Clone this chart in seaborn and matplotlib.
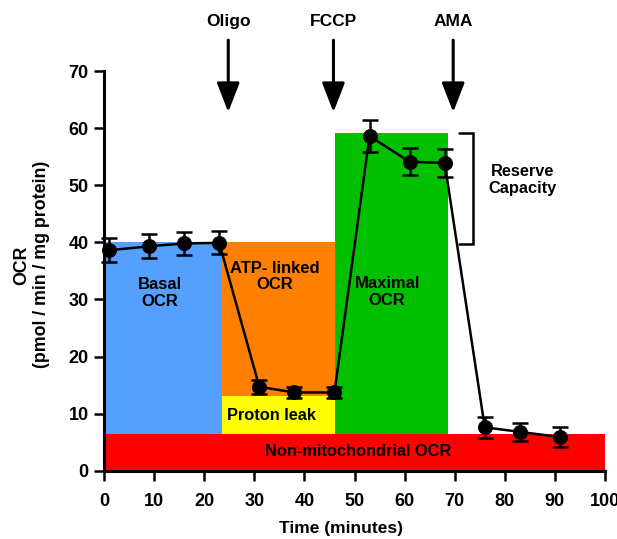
import matplotlib
matplotlib.use("Agg")
import matplotlib.pyplot as plt
import seaborn as sns
import pandas as pd

# ---- data ----
time_min = [1, 9, 16, 23, 31, 38, 46, 53, 61, 68, 76, 83, 91]
ocr = [38.6, 39.3, 39.8, 39.9, 14.7, 13.7, 13.7, 58.6, 54.1, 53.9, 7.6, 6.8, 5.9]
ocr_err = [2.1, 2.1, 2.0, 2.0, 1.2, 1.0, 1.0, 2.8, 2.4, 2.4, 1.8, 1.6, 1.7]

region_names = ["Basal\nOCR", "ATP- linked\nOCR", "Proton leak", "Maximal\nOCR", "Non-mitochondrial OCR"]
region_x0 = [0, 23.5, 23.5, 46.1, 0]
region_x1 = [23.5, 46.1, 46.1, 68.6, 100]
region_y0 = [6.5, 13.1, 6.5, 6.5, 0]
region_y1 = [40, 40, 13.1, 59.2, 6.5]
region_colors = ["#559fff", "#ff8000", "#ffff00", "#00c000", "#ff0000"]
region_label_x = [11.2, 34.1, 33.5, 56.5, 50.8]
region_label_y = [31.1, 34.0, 9.6, 31.3, 3.3]

injections = ["Oligo", "FCCP", "AMA"]
injection_x = [24.8, 45.8, 69.7]

x_ticks = [0, 10, 20, 30, 40, 50, 60, 70, 80, 90, 100]
y_ticks = [0, 10, 20, 30, 40, 50, 60, 70]

sns.set_style("ticks")
plt.rcParams["font.family"] = ["Liberation Sans", "DejaVu Sans"]
plt.rcParams["font.weight"] = "bold"
for k in ["text.color", "axes.labelcolor", "xtick.color", "ytick.color",
          "axes.edgecolor"]:
    plt.rcParams[k] = "black"

fig = plt.figure(figsize=(6.17, 5.39), dpi=100)
ax = fig.add_axes([104 / 617, (539 - 470.7) / 539, 501 / 617, 399.7 / 539])

# coloured regions
widths = [b - a for a, b in zip(region_x0, region_x1)]
heights = [b - a for a, b in zip(region_y0, region_y1)]
ax.bar(region_x0, heights, width=widths, bottom=region_y0, align="edge",
       color=region_colors, edgecolor="none", linewidth=0, zorder=1)
for name, lx, ly, fs in zip(region_names, region_label_x, region_label_y,
                            [12, 12, 11.8, 12, 11.8]):
    ax.text(lx, ly, name, ha="center", va="center", fontsize=fs,
            fontweight="bold", color="black", linespacing=1.15, zorder=2)

# data line
df = pd.DataFrame({"Time": time_min, "OCR": ocr})
sns.lineplot(data=df, x="Time", y="OCR", ax=ax, color="black", lw=1.8,
             marker="o", markersize=10, markeredgecolor="black", zorder=4,
             clip_on=False)
ax.errorbar(time_min, ocr, yerr=ocr_err, fmt="none", ecolor="black",
            elinewidth=1.8, capsize=6, capthick=1.8, zorder=4, clip_on=False)

# injection arrows
for name, ix in zip(injections, injection_x):
    ax.annotate("", xy=(ix, 62.8), xytext=(ix, 75.4),
                arrowprops=dict(arrowstyle="-|>,head_length=0.9,head_width=0.35",
                                lw=2.2, color="black", shrinkA=0, shrinkB=0,
                                mutation_scale=20),
                annotation_clip=False)
    ax.text(ix, 78.6, name, ha="center", va="center", fontsize=12.5,
            fontweight="bold", clip_on=False)

# reserve capacity bracket
ax.plot([70.9, 73.7, 73.7, 70.9], [59.1, 59.1, 39.7, 39.7], color="black",
        lw=1.8, clip_on=False, solid_joinstyle="miter")
ax.text(83.6, 50.9, "Reserve\nCapacity", ha="center", va="center",
        fontsize=11.8, fontweight="bold", linespacing=1.2)

ax.set_xlim(0, 100)
ax.set_ylim(0, 70)
ax.set_xticks(x_ticks)
ax.set_yticks(y_ticks)
ax.tick_params(axis="both", labelsize=13, width=1.8, length=7, direction="out",
               colors="black")
ax.tick_params(axis="x", pad=9)
ax.tick_params(axis="y", pad=4)
for lab in ax.get_xticklabels() + ax.get_yticklabels():
    lab.set_fontweight("bold")
for s in ["left", "bottom"]:
    ax.spines[s].set_linewidth(2.2)
    ax.spines[s].set_color("black")
ax.spines["top"].set_visible(False)
ax.spines["right"].set_visible(False)

ax.set_xlabel("Time (minutes)", fontsize=12.5, fontweight="bold")
ax.xaxis.set_label_coords(0.473, -0.125)
ax.set_ylabel("OCR\n(pmol / min / mg protein)", fontsize=12.8,
              fontweight="bold", linespacing=1.2)
ax.yaxis.set_label_coords(-0.108, 0.515)

fig.savefig("out.png", dpi=100)
